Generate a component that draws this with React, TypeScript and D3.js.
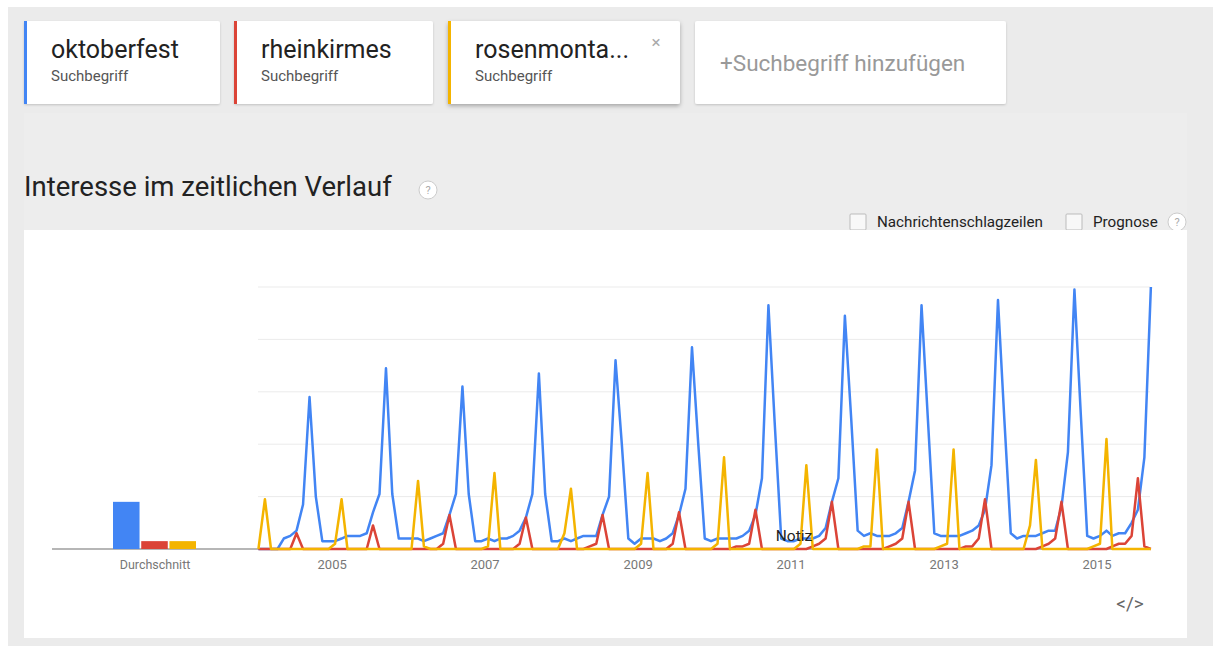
import React from 'react'
import * as d3 from 'd3'

// Suchbegriffe + Farben
const terms = ['oktoberfest', 'rheinkirmes', 'rosenmonta...']
const colors = ['#4285f4', '#db4437', '#f4b400']

// monatliche Werte ab Jan 2004 bis Sep 2015
const oktoberfest = [
  0, 0, 0, 0, 4, 5, 7, 17, 58, 20, 3, 3,
  3, 4, 5, 5, 5, 6, 14, 21, 69, 21, 4, 4,
  4, 4, 3, 4, 5, 6, 13, 21, 62, 21, 3, 3,
  4, 3, 4, 4, 5, 7, 12, 21, 67, 21, 3, 3,
  4, 3, 4, 5, 5, 5, 13, 20, 72, 40, 4, 2,
  4, 4, 4, 3, 4, 6, 13, 23, 77, 40, 4, 3,
  4, 4, 4, 4, 5, 7, 13, 27, 93, 48, 4, 3,
  3, 4, 4, 4, 5, 8, 18, 27, 89, 50, 7, 5,
  6, 5, 5, 5, 6, 8, 18, 30, 93, 50, 6, 5,
  5, 5, 5, 6, 7, 9, 15, 32, 95, 50, 6, 4,
  5, 5, 5, 6, 7, 7, 16, 37, 99, 52, 5, 4,
  5, 7, 5, 6, 6, 10, 15, 35, 100,
]
const rheinkirmes = [
  0, 0, 0, 0, 0, 0, 6, 0, 0, 0, 0, 0,
  0, 0, 0, 0, 0, 0, 9, 0, 0, 0, 0, 0,
  0, 0, 0, 0, 0, 2, 13, 0, 0, 0, 0, 0,
  0, 0, 0, 0, 0, 2, 12, 0, 0, 0, 0, 0,
  0, 0, 0, 0, 1, 2, 13, 0, 0, 0, 0, 0,
  0, 0, 0, 0, 0, 2, 14, 0, 0, 0, 0, 0,
  0, 0, 0, 1, 1, 2, 15, 0, 0, 0, 0, 0,
  0, 0, 0, 1, 2, 4, 18, 0, 0, 0, 0, 0,
  0, 0, 0, 1, 2, 4, 18, 0, 0, 0, 0, 0,
  0, 0, 0, 1, 1, 4, 19, 0, 0, 0, 0, 0,
  0, 0, 0, 1, 2, 4, 18, 0, 0, 0, 0, 0,
  0, 0, 1, 2, 2, 5, 27, 1, 0,
]
const rosenmontag = [
  0, 19, 0, 0, 0, 0, 0, 0, 0, 0, 0, 0,
  2, 19, 0, 0, 0, 0, 0, 0, 0, 0, 0, 0,
  0, 26, 1, 0, 0, 0, 0, 0, 0, 0, 0, 0,
  1, 29, 0, 0, 0, 0, 0, 0, 0, 0, 0, 0,
  6, 23, 0, 0, 0, 0, 0, 0, 0, 0, 0, 0,
  2, 29, 0, 0, 0, 0, 0, 0, 0, 0, 0, 0,
  2, 35, 0, 0, 0, 0, 0, 0, 0, 0, 0, 0,
  0, 2, 32, 0, 0, 0, 0, 0, 0, 0, 0, 1,
  1, 38, 0, 0, 0, 0, 0, 0, 0, 0, 0, 1,
  2, 38, 0, 0, 0, 0, 0, 0, 0, 0, 0, 0,
  0, 9, 34, 0, 0, 0, 0, 0, 0, 0, 0, 1,
  2, 42, 0, 0, 0, 0, 0, 0, 0,
]
const averages = [18, 3, 3]
const yearTicks = [2005, 2007, 2009, 2011, 2013, 2015]
const gridValues = [20, 40, 60, 80, 100]

const font = 'Roboto, "Noto Sans", Arial, sans-serif'

export default function App() {
  const series = [oktoberfest, rheinkirmes, rosenmontag]

  const x = d3.scaleTime()
    .domain([new Date(2004, 0, 1), new Date(2016, 0, 1)])
    .range([255.5, 1173.5])
  const y = d3.scaleLinear().domain([0, 100]).range([549, 287])

  const barX = d3.scaleBand<number>()
    .domain([0, 1, 2])
    .range([113, 196])
    .paddingInner(0.06)

  const line = d3.line<number>()
    .x((d, i) => x(new Date(2004, i, 15)))
    .y(d => y(d))

  const cards = [
    { x: 24, w: 196 },
    { x: 234, w: 199 },
    { x: 448, w: 232 },
  ]

  return (
    <svg width={1213} height={646} style={{ position: 'absolute', left: 0, top: 0 }} fontFamily={font}>
      <defs>
        <filter id="sh" x="-10%" y="-10%" width="120%" height="130%">
          <feDropShadow dx="0" dy="1" stdDeviation="1" floodOpacity="0.18" />
        </filter>
        <filter id="sh2" x="-10%" y="-10%" width="120%" height="140%">
          <feDropShadow dx="0" dy="2" stdDeviation="2" floodOpacity="0.3" />
        </filter>
      </defs>
      <rect x={8} y={7} width={1205} height={639} fill="#ebebeb" />
      <rect x={24} y={113} width={1163} height={117} fill="#ededed" />

      {/* Suchbegriff-Karten */}
      {cards.map((c, i) => (
        <g key={i}>
          <rect x={c.x} y={21} width={c.w} height={83} rx={2} fill="#fff" filter={i === 2 ? 'url(#sh2)' : 'url(#sh)'} />
          <rect x={c.x} y={21} width={3} height={83} fill={colors[i]} />
          <text x={c.x + 27} y={58} fontSize={25} fill="#222">{terms[i]}</text>
          <text x={c.x + 27} y={81} fontSize={15} fill="#555">Suchbegriff</text>
        </g>
      ))}
      <text x={656} y={48} fontSize={17} fill="#aaa" textAnchor="middle">×</text>
      <rect x={695} y={21} width={311} height={83} rx={2} fill="#fff" filter="url(#sh)" />
      <text x={720} y={71} fontSize={22.5} fill="#999">+Suchbegriff hinzufügen</text>

      {/* Titel */}
      <text x={24} y={196} fontSize={27.5} fill="#222">Interesse im zeitlichen Verlauf</text>
      <circle cx={428} cy={190} r={9} fill="#fff" stroke="#ccc" />
      <text x={428} y={194} fontSize={11} fill="#aaa" textAnchor="middle">?</text>

      <rect x={850} y={214} width={16} height={16} rx={1} fill="#f8f8f8" stroke="#bbb" />
      <text x={877} y={227} fontSize={15.2} fill="#222">Nachrichtenschlagzeilen</text>
      <rect x={1066} y={214} width={16} height={16} rx={1} fill="#f8f8f8" stroke="#bbb" />
      <text x={1093} y={227} fontSize={15.2} fill="#222">Prognose</text>
      <circle cx={1177} cy={222} r={9} fill="#fff" stroke="#ccc" />
      <text x={1177} y={226} fontSize={11} fill="#aaa" textAnchor="middle">?</text>

      {/* Diagramm */}
      <rect x={24} y={230} width={1163} height={408} fill="#fff" />
      {gridValues.map(v => (
        <line key={v} x1={258} x2={1150} y1={y(v)} y2={y(v)} stroke="#ebebeb" strokeWidth={1} />
      ))}
      <line x1={52} x2={1150} y1={y(0)} y2={y(0)} stroke="#9e9e9e" strokeWidth={1.5} />

      {averages.map((v, i) => (
        <rect key={i} x={barX(i)} y={y(v)} width={barX.bandwidth()} height={y(0) - y(v)} fill={colors[i]} />
      ))}
      <text x={155} y={569} fontSize={12.5} fill="#777" textAnchor="middle">Durchschnitt</text>

      {yearTicks.map(yr => (
        <text key={yr} x={x(new Date(yr, 0, 1))} y={569} fontSize={13} fill="#777" textAnchor="middle">{yr}</text>
      ))}

      {series.map((s, i) => (
        <path key={i} d={line(s) || ''} fill="none" stroke={colors[i]} strokeWidth={2.5} strokeLinejoin="round" />
      ))}

      <text x={x(new Date(2011, 0, 15))} y={541} fontSize={15.5} fill="#222" textAnchor="middle">Notiz</text>

      <text x={1130} y={610} fontSize={19} fill="#666" textAnchor="middle">&lt;/&gt;</text>
    </svg>
  )
}
